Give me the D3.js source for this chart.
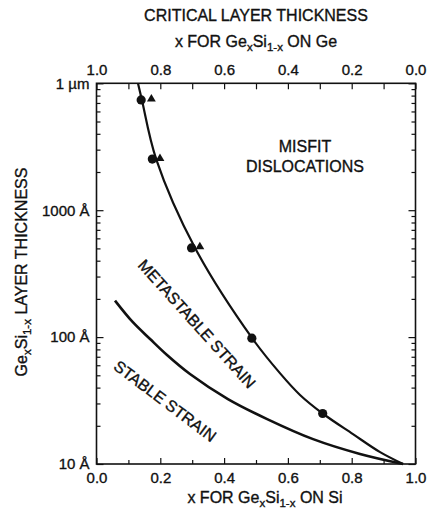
<!DOCTYPE html>
<html>
<head>
<meta charset="utf-8">
<script src="https://cdn.jsdelivr.net/npm/d3@7"></script>
<style>
  body { margin: 0; background: #fff; }
  svg text { font-family: "Liberation Sans", Arial, Helvetica, sans-serif; fill: #111; stroke: #111; stroke-width: 0.35px; }
</style>
</head>
<body>
<div id="chart"></div>
<script>
// critical thickness curve (metastable limit) - x on Si, thickness in Angstrom
const upperX = [0.13, 0.142, 0.187, 0.309, 0.488, 0.575, 0.638, 0.709, 0.804, 0.889, 0.961];
const upperT = [10000, 7450, 2530, 504, 98, 52, 35, 25, 17.2, 12.4, 10];

// equilibrium curve (stable limit)
const lowerX = [0.058, 0.114, 0.168, 0.221, 0.293, 0.412, 0.535, 0.679, 0.826, 0.961];
const lowerT = [194, 131, 96.6, 72.3, 51.2, 32.5, 22.6, 15.7, 12.0, 10];

// measured points
const circleX = [0.14, 0.175, 0.298, 0.487, 0.709];
const circleT = [7400, 2530, 504, 98, 25];
const triX = [0.172, 0.199, 0.324];
const triT = [7450, 2530, 510];

// tick values
const xMajor = [0, 0.2, 0.4, 0.6, 0.8, 1.0];
const xMinor = [0.1, 0.3, 0.5, 0.7, 0.9];
const yMajor = [10, 100, 1000, 10000];
const yMinor = [20, 30, 40, 50, 60, 70, 80, 90, 200, 300, 400, 500, 600, 700, 800, 900,
                2000, 3000, 4000, 5000, 6000, 7000, 8000, 9000];

const svgWidth = 430;
const svgHeight = 512;
const margin = { left: 96.5, right: 415.5, top: 83.3, bottom: 464 };

const svg = d3.select("#chart").append("svg")
    .attr("width", svgWidth)
    .attr("height", svgHeight);

const x = d3.scaleLinear().domain([0, 1]).range([margin.left, margin.right]);
const xTop = d3.scaleLinear().domain([1, 0]).range([margin.left, margin.right]);
const y = d3.scaleLog().domain([10, 10000]).range([margin.bottom, margin.top]);

// write text with subscripts: parts = [[text, isSub], ...]
function subText(sel, parts, size) {
    let shifted = false;
    parts.forEach(([t, sub]) => {
        const ts = sel.append("tspan").text(t);
        if (sub && !shifted) { ts.attr("dy", 4).attr("font-size", size * 0.72); shifted = true; }
        else if (sub) { ts.attr("font-size", size * 0.72); }
        else if (!sub && shifted) { ts.attr("dy", -4); shifted = false; }
    });
}

// axes
const axisStyle = g => {
    g.select(".domain").remove();
    g.selectAll("line").attr("stroke", "#111").attr("stroke-width", 1.2);
    g.selectAll("text").attr("font-size", 15).attr("fill", "#111")
        .style("font-family", "'Liberation Sans', Arial, sans-serif");
};

svg.append("g")
    .attr("transform", `translate(0,${margin.bottom})`)
    .call(d3.axisBottom(x).tickValues(xMajor).tickSize(-6).tickPadding(8)
        .tickFormat(d3.format(".1f")))
    .call(axisStyle);

svg.append("g")
    .attr("transform", `translate(0,${margin.bottom})`)
    .call(d3.axisBottom(x).tickValues(xMinor).tickSize(-4).tickFormat(""))
    .call(axisStyle);

svg.append("g")
    .attr("transform", `translate(0,${margin.top})`)
    .call(d3.axisTop(xTop).tickValues(xMajor.concat(xMinor)).tickSize(-6).tickPadding(8)
        .tickFormat(d => xMajor.includes(d) ? d3.format(".1f")(d) : ""))
    .call(axisStyle);

svg.append("g")
    .attr("transform", `translate(${margin.left},0)`)
    .call(d3.axisLeft(y).tickValues(yMajor).tickSize(-7).tickPadding(7)
        .tickFormat(d => d === 10000 ? "1 \u00b5m" : d + " \u00c5"))
    .call(axisStyle);

svg.append("g")
    .attr("transform", `translate(${margin.left},0)`)
    .call(d3.axisLeft(y).tickValues(yMinor).tickSize(-4).tickFormat(""))
    .call(axisStyle);

svg.append("g")
    .attr("transform", `translate(${margin.right},0)`)
    .call(d3.axisRight(y).tickValues(yMajor).tickSize(-7).tickFormat(""))
    .call(axisStyle);

svg.append("g")
    .attr("transform", `translate(${margin.right},0)`)
    .call(d3.axisRight(y).tickValues(yMinor).tickSize(-4).tickFormat(""))
    .call(axisStyle);

// frame
svg.append("rect")
    .attr("x", margin.left).attr("y", margin.top)
    .attr("width", margin.right - margin.left).attr("height", margin.bottom - margin.top)
    .attr("fill", "none").attr("stroke", "#111").attr("stroke-width", 1.6);

// curves
const line = d3.line()
    .x(d => x(d[0]))
    .y(d => y(d[1]))
    .curve(d3.curveCatmullRom.alpha(0.5));

svg.append("path")
    .datum(upperX.map((v, i) => [v, upperT[i]]))
    .attr("d", line)
    .attr("fill", "none").attr("stroke", "#111").attr("stroke-width", 2.2);

svg.append("path")
    .datum(lowerX.map((v, i) => [v, lowerT[i]]))
    .attr("d", line)
    .attr("fill", "none").attr("stroke", "#111").attr("stroke-width", 2.6);

// markers
svg.selectAll(".pt")
    .data(circleX.map((v, i) => [v, circleT[i]]))
    .enter().append("circle")
    .attr("cx", d => x(d[0]))
    .attr("cy", d => y(d[1]))
    .attr("r", 4.6)
    .attr("fill", "#111");

svg.selectAll(".tri")
    .data(triX.map((v, i) => [v, triT[i]]))
    .enter().append("path")
    .attr("d", d3.symbol(d3.symbolTriangle, 34))
    .attr("transform", d => `translate(${x(d[0])},${y(d[1]) - 0.5})`)
    .attr("fill", "#111");

// titles
svg.append("text")
    .attr("x", 256).attr("y", 21)
    .attr("text-anchor", "middle").attr("font-size", 16)
    .text("CRITICAL LAYER THICKNESS");

const topLabel = svg.append("text")
    .attr("x", 256).attr("y", 47)
    .attr("text-anchor", "middle").attr("font-size", 16);
subText(topLabel, [["x FOR Ge", false], ["x", true], ["Si", false], ["1-x", true], [" ON Ge", false]], 16);

const bottomLabel = svg.append("text")
    .attr("x", 265).attr("y", 503)
    .attr("text-anchor", "middle").attr("font-size", 16);
subText(bottomLabel, [["x FOR Ge", false], ["x", true], ["Si", false], ["1-x", true], [" ON Si", false]], 16);

const yLabel = svg.append("text")
    .attr("transform", "translate(27,272) rotate(-90)")
    .attr("text-anchor", "middle").attr("font-size", 16);
subText(yLabel, [["Ge", false], ["x", true], ["Si", false], ["1-x", true], [" LAYER THICKNESS", false]], 16);

// region labels
svg.append("text")
    .attr("x", 305).attr("y", 152)
    .attr("text-anchor", "middle").attr("font-size", 16)
    .text("MISFIT");
svg.append("text")
    .attr("x", 305).attr("y", 172)
    .attr("text-anchor", "middle").attr("font-size", 16)
    .text("DISLOCATIONS");

svg.append("text")
    .attr("transform", "translate(197,324) rotate(48)")
    .attr("text-anchor", "middle").attr("dy", "0.35em").attr("font-size", 16)
    .text("METASTABLE STRAIN");

svg.append("text")
    .attr("transform", "translate(165,401) rotate(37)")
    .attr("text-anchor", "middle").attr("dy", "0.35em").attr("font-size", 16)
    .text("STABLE STRAIN");
</script>
</body>
</html>
